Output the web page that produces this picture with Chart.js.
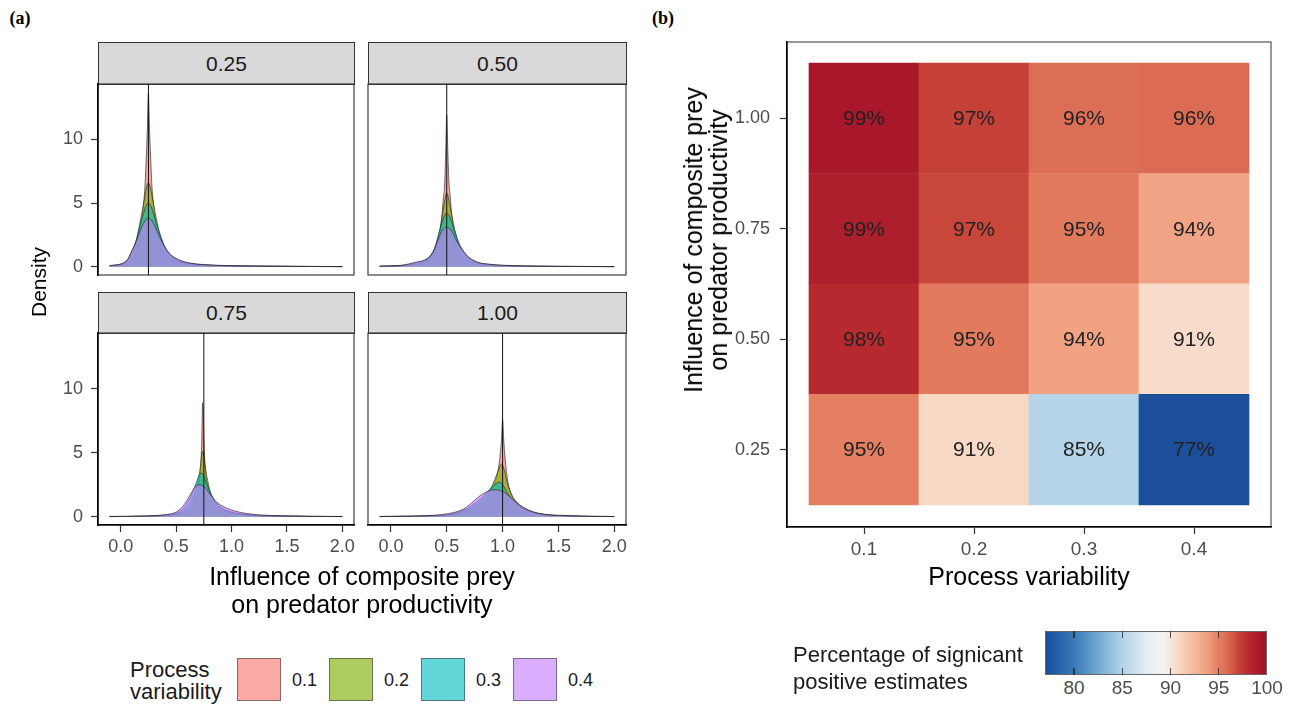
<!DOCTYPE html>
<html><head><meta charset="utf-8">
<script src="https://cdn.jsdelivr.net/npm/chart.js@4/dist/chart.umd.min.js"></script>
<style>
html,body{margin:0;padding:0;background:#fff;width:1293px;height:705px;overflow:hidden;font-family:"Liberation Sans",Arial,sans-serif;}
canvas{position:absolute;}
.t{position:absolute;white-space:nowrap;}
.strip{position:absolute;background:#D9D9D9;border:1.5px solid #333;box-sizing:border-box;display:flex;align-items:center;justify-content:center;font-size:21px;color:#1a1a1a;}
</style></head><body>
<script>
// ---------------- DATA ----------------
const facetValues = [0.25, 0.50, 0.75, 1.00];
const facetLabels = ['0.25', '0.50', '0.75', '1.00'];
const processLabels = ['0.1', '0.2', '0.3', '0.4'];
const densityXTicks = [0, 0.5, 1, 1.5, 2];
const densityYTicks = [0, 5, 10];

// facet 0.25 : density curves for process variability 0.1 / 0.2 / 0.3 / 0.4
const x_f025 = [-0.1,0.05,0.1,0.14,0.17,0.19,0.205,0.22,0.23,0.24,0.25,0.26,0.27,0.28,0.295,0.31,0.33,0.36,0.4,0.45,0.53,0.63,0.75,0.95,1.25,1.6,2.0];
const f025_p01 = [0.05,0.25,0.75,1.4,2.5,3.6,4.8,6.5,8.5,10.8,13.6,10.8,8.6,6.6,4.9,3.7,2.6,1.65,1.0,0.6,0.32,0.18,0.1,0.06,0.03,0.02,0.01];
const f025_p02 = [0.06,0.35,1.1,2.0,3.3,4.2,4.9,5.65,6.1,6.45,6.6,6.45,6.1,5.7,5.0,4.3,3.4,2.35,1.45,0.85,0.42,0.22,0.13,0.07,0.04,0.02,0.01];
const f025_p03 = [0.07,0.4,1.2,2.1,3.1,3.75,4.15,4.6,4.8,4.95,5.0,4.95,4.8,4.6,4.2,3.8,3.2,2.4,1.55,0.95,0.5,0.26,0.15,0.08,0.045,0.025,0.01];
const f025_p04 = [0.08,0.45,1.25,2.0,2.7,3.12,3.4,3.6,3.72,3.78,3.8,3.78,3.72,3.62,3.42,3.15,2.75,2.15,1.5,0.95,0.52,0.28,0.17,0.09,0.05,0.03,0.015];
// facet 0.50
const x_f050 = [-0.1,0.1,0.22,0.3,0.35,0.39,0.42,0.44,0.455,0.47,0.48,0.49,0.5,0.51,0.52,0.53,0.545,0.56,0.58,0.61,0.65,0.7,0.78,0.88,1.0,1.2,1.5,2.0];
const f050_p01 = [0.02,0.06,0.15,0.3,0.55,0.95,1.6,2.4,3.8,5.4,6.3,8.8,11.9,9.0,6.6,5.6,4.0,2.9,1.8,1.1,0.65,0.38,0.18,0.1,0.06,0.03,0.02,0.01];
const f050_p02 = [0.03,0.08,0.22,0.42,0.75,1.3,2.2,3.0,3.8,4.6,5.1,5.55,5.8,5.6,5.2,4.75,4.05,3.4,2.6,1.75,1.1,0.6,0.28,0.15,0.08,0.04,0.02,0.01];
const f050_p03 = [0.04,0.1,0.28,0.5,0.85,1.45,2.3,2.95,3.4,3.8,4.0,4.15,4.2,4.15,4.02,3.85,3.5,3.1,2.55,1.85,1.2,0.7,0.33,0.18,0.1,0.05,0.03,0.01];
const f050_p04 = [0.05,0.12,0.35,0.52,0.8,1.35,2.05,2.5,2.78,2.95,3.03,3.08,3.1,3.08,3.03,2.96,2.8,2.55,2.2,1.7,1.2,0.72,0.35,0.2,0.12,0.06,0.03,0.015];
// facet 0.75
const x_f075 = [-0.1,0.2,0.4,0.5,0.56,0.62,0.66,0.69,0.71,0.72,0.73,0.74,0.75,0.76,0.77,0.785,0.8,0.83,0.87,0.92,1.0,1.1,1.25,1.45,1.7,2.0];
const f075_p01 = [0.01,0.02,0.06,0.15,0.3,0.65,1.1,1.8,2.7,3.5,5.5,8.9,6.2,4.2,3.1,2.3,1.7,1.1,0.7,0.45,0.25,0.14,0.07,0.04,0.02,0.01];
const f075_p02 = [0.01,0.03,0.09,0.2,0.42,0.95,1.6,2.5,3.4,4.0,4.8,5.1,4.7,4.1,3.5,2.8,2.2,1.45,0.9,0.58,0.32,0.17,0.08,0.04,0.02,0.01];
const f075_p03 = [0.01,0.04,0.12,0.28,0.6,1.35,2.15,2.85,3.25,3.38,3.4,3.32,3.15,2.95,2.72,2.4,2.05,1.5,1.0,0.65,0.37,0.2,0.1,0.05,0.02,0.01];
const f075_p04 = [0.02,0.05,0.16,0.36,0.8,1.6,2.2,2.45,2.5,2.48,2.45,2.4,2.35,2.28,2.2,2.02,1.85,1.5,1.1,0.82,0.52,0.3,0.14,0.07,0.03,0.02];
// facet 1.00
const x_f100 = [-0.1,0.2,0.4,0.55,0.65,0.72,0.8,0.86,0.9,0.93,0.95,0.97,0.98,0.99,1.0,1.01,1.02,1.035,1.05,1.08,1.12,1.18,1.26,1.36,1.46,1.53,1.6,1.8,2.0];
const f100_p01 = [0.01,0.02,0.05,0.13,0.3,0.55,1.0,1.5,2.0,2.6,3.2,4.2,5.0,6.0,7.6,6.0,4.8,3.5,2.6,1.7,1.1,0.65,0.35,0.17,0.09,0.08,0.05,0.02,0.01];
const f100_p02 = [0.01,0.03,0.07,0.17,0.4,0.7,1.2,1.75,2.3,2.9,3.35,3.8,4.0,4.1,4.05,3.8,3.45,2.9,2.4,1.75,1.2,0.75,0.4,0.2,0.1,0.08,0.05,0.02,0.01];
const f100_p03 = [0.01,0.04,0.09,0.22,0.5,0.85,1.4,1.9,2.25,2.5,2.63,2.7,2.68,2.62,2.52,2.38,2.22,1.98,1.75,1.4,1.02,0.65,0.36,0.18,0.1,0.08,0.05,0.02,0.01];
const f100_p04 = [0.02,0.05,0.12,0.3,0.6,1.05,1.65,1.95,2.08,2.1,2.1,2.06,2.03,2.0,1.96,1.92,1.87,1.78,1.68,1.45,1.15,0.75,0.42,0.2,0.12,0.11,0.07,0.03,0.02];

// heatmap (b)
const hmProcess = [0.1, 0.2, 0.3, 0.4];
const hmInfluence = [0.25, 0.50, 0.75, 1.00];
const hmPct_025 = [95.0, 90.8, 85.1, 77.0];
const hmPct_050 = [98.2, 95.2, 93.7, 90.6];
const hmPct_075 = [98.9, 97.0, 95.3, 93.6];
const hmPct_100 = [99.4, 97.2, 95.8, 95.9];
const colorLimits = [77, 100];
const colorbarTicks = [80, 85, 90, 95, 100];

// ---------------- STYLE ----------------
const FONT = '"Liberation Sans", Arial, sans-serif';
const fillColors = ['rgba(248,118,109,0.62)','rgba(124,174,0,0.62)','rgba(0,191,196,0.62)','rgba(199,124,255,0.62)'];
const colorStops = [[77,'#1B4E9B'],[80,'#3A7BB8'],[83,'#7EB3D6'],[85,'#B3D3E6'],[87.5,'#E3EDF3'],[89.3,'#F5F3F0'],[91,'#F8D5C0'],[93,'#F3B193'],[94,'#EF9B7B'],[95,'#E47F61'],[96,'#DA6A52'],[97,'#C8463A'],[98,'#B82D30'],[99,'#AC1D2C'],[100,'#A50F26']];

function hex2rgb(h){return [parseInt(h.substr(1,2),16),parseInt(h.substr(3,2),16),parseInt(h.substr(5,2),16)];}
function colorFor(v){
  if (v <= colorStops[0][0]) return colorStops[0][1];
  for (let i=1;i<colorStops.length;i++){
    if (v <= colorStops[i][0]){
      const [v0,c0]=colorStops[i-1],[v1,c1]=colorStops[i];
      const f=(v-v0)/(v1-v0), a=hex2rgb(c0), b=hex2rgb(c1);
      return 'rgb('+a.map((x,k)=>Math.round(x+(b[k]-x)*f)).join(',')+')';
    }
  }
  return colorStops[colorStops.length-1][1];
}

function makeCanvas(left, top, w, h){
  const c=document.createElement('canvas');
  c.width=w; c.height=h;
  c.style.left=left+'px'; c.style.top=top+'px'; c.style.width=w+'px'; c.style.height=h+'px';
  document.body.appendChild(c);
  return c;
}
function addText(txt, x, y, css, rotate){
  const d=document.createElement('div');
  d.className='t';
  d.innerHTML=txt;
  d.style.left=x+'px'; d.style.top=y+'px';
  d.style.transform='translate(-50%,-50%)'+(rotate?' rotate(-90deg)':'');
  Object.assign(d.style, css||{});
  document.body.appendChild(d);
  return d;
}
function zeroPad(s){ s.paddingLeft=0; s.paddingRight=0; s.paddingTop=0; s.paddingBottom=0; }

// ---------------- DENSITY PANELS ----------------
const Y_AXIS_W = 68, X_AXIS_H = 45, PAD = 3;
function densityPanel(rect, showY, showX, xs, seriesList, facet){
  const leftSpace = showY ? Y_AXIS_W : PAD;
  const bottomSpace = showX ? X_AXIS_H : PAD;
  const left = rect.l - leftSpace, top = rect.t - PAD;
  const w = rect.r - left + PAD, h = rect.b - top + bottomSpace;
  const cv = makeCanvas(left, top, w, h);
  const framePlugin = {
    id:'frame'+facet,
    afterDatasetsDraw(chart){
      const ctx=chart.ctx, a=chart.chartArea, xs_=chart.scales.x;
      ctx.save();
      ctx.strokeStyle='#3d3d3d'; ctx.lineWidth=1.2;
      ctx.strokeRect(a.left, a.top, a.right-a.left, a.bottom-a.top);
      const px = xs_.getPixelForValue(facet);
      ctx.strokeStyle='#111'; ctx.lineWidth=1;
      ctx.beginPath(); ctx.moveTo(px, a.top); ctx.lineTo(px, a.bottom); ctx.stroke();
      ctx.restore();
    }
  };
  new Chart(cv, {
    type:'line',
    data:{datasets: seriesList.map((ys,k)=>({
      data: xs.map((x,i)=>({x:x, y:ys[i]})),
      backgroundColor: fillColors[k], borderColor:'rgba(35,35,35,0.8)', borderWidth:0.8,
      fill:'origin', pointRadius:0, cubicInterpolationMode:'monotone', order: 4-k
    }))},
    options:{
      responsive:false, maintainAspectRatio:false, animation:false, devicePixelRatio:1, events:[],
      layout:{padding:{left: showY?0:PAD, right:PAD, top:PAD, bottom: showX?0:PAD}},
      plugins:{legend:{display:false}, tooltip:{enabled:false}},
      scales:{
        x:{type:'linear', min:-0.205, max:2.105, display:showX,
          afterBuildTicks:s=>{s.ticks=densityXTicks.map(v=>({value:v}));},
          afterFit:s=>{s.height=showX?X_AXIS_H:0; zeroPad(s);},
          grid:{display:true, drawOnChartArea:false, tickLength:7, tickColor:'#333', tickWidth:1.2},
          border:{display:true, color:'#000', width:1.6, z:1},
          ticks:{font:{family:FONT, size:18}, color:'#4D4D4D', padding:4, maxRotation:0, callback:v=>Number(v).toFixed(1)}
        },
        y:{type:'linear', min:-0.65, max:14.35, display:showY,
          afterBuildTicks:s=>{s.ticks=densityYTicks.map(v=>({value:v}));},
          afterFit:s=>{s.width=showY?Y_AXIS_W:0; zeroPad(s);},
          grid:{display:true, drawOnChartArea:false, tickLength:7, tickColor:'#333', tickWidth:1.2},
          border:{display:true, color:'#000', width:1.6, z:1},
          ticks:{font:{family:FONT, size:18}, color:'#4D4D4D', padding:8, callback:v=>String(v)}
        }
      }
    },
    plugins:[framePlugin]
  });
}

const panelRects = [
  {l:98, t:84, r:354, b:275, sT:42},
  {l:368, t:84, r:626, b:275, sT:42},
  {l:98, t:333, r:354, b:525, sT:292},
  {l:368, t:333, r:626, b:525, sT:292}
];
const panelX = [x_f025, x_f050, x_f075, x_f100];
const panelSeries = [
  [f025_p01,f025_p02,f025_p03,f025_p04],
  [f050_p01,f050_p02,f050_p03,f050_p04],
  [f075_p01,f075_p02,f075_p03,f075_p04],
  [f100_p01,f100_p02,f100_p03,f100_p04]
];
panelRects.forEach((r,i)=>{
  const s=document.createElement('div');
  s.className='strip';
  s.style.left=r.l+'px'; s.style.top=r.sT+'px';
  s.style.width=(r.r-r.l+1)+'px'; s.style.height=(r.t-r.sT+1)+'px';
  s.textContent=facetLabels[i];
  document.body.appendChild(s);
  densityPanel(r, i%2===0, i>=2, panelX[i], panelSeries[i], facetValues[i]);
});

// axis titles (a)
addText('Density', 39, 282, {fontSize:'21px', color:'#000'}, true);
addText('Influence of composite prey<br>on predator productivity', 362, 590, {fontSize:'25px', color:'#000', textAlign:'center', lineHeight:'28px'});

// legend (a)
addText('Process<br>variability', 130, 681, {fontSize:'22px', color:'#1a1a1a', lineHeight:'22px', transform:'translate(0,-50%)'});
const legBoxX = [237, 329, 421, 513];
processLabels.forEach((lab,k)=>{
  const b=document.createElement('div');
  Object.assign(b.style,{position:'absolute', left:legBoxX[k]+'px', top:'658px', width:'44px', height:'43px', boxSizing:'border-box', background:fillColors[k], border:'1px solid rgba(60,60,60,0.6)'});
  document.body.appendChild(b);
  addText(lab, legBoxX[k]+55, 680, {fontSize:'18px', color:'#1a1a1a', transform:'translate(0,-50%)'});
});

// ---------------- HEATMAP ----------------
(function(){
  const plot={l:787, t:42, r:1271, b:527};
  const YW=70, XH=45;
  const left=plot.l-YW, top=plot.t-PAD;
  const w=plot.r-left+PAD, h=plot.b-top+XH;
  const cv=makeCanvas(left, top, w, h);
  const rows=[hmPct_025, hmPct_050, hmPct_075, hmPct_100];
  const half=(hmInfluence[1]-hmInfluence[0])/2;
  const hmPlugin={
    id:'hmDecor',
    afterDatasetsDraw(chart){
      const ctx=chart.ctx, a=chart.chartArea, xs=chart.scales.x, ys=chart.scales.y;
      ctx.save();
      ctx.strokeStyle='#555'; ctx.lineWidth=1.2;
      ctx.strokeRect(a.left, a.top, a.right-a.left, a.bottom-a.top);
      ctx.fillStyle='#222';
      ctx.font='21px '+FONT;
      ctx.textAlign='center'; ctx.textBaseline='middle';
      hmInfluence.forEach((inf,r)=>{
        hmProcess.forEach((p,c)=>{
          ctx.fillText(Math.round(rows[r][c])+'%', xs.getPixelForValue(p), ys.getPixelForValue(inf)+1);
        });
      });
      ctx.restore();
    }
  };
  new Chart(cv,{
    type:'bar',
    data:{datasets: hmInfluence.map((inf,r)=>({
      data: hmProcess.map(p=>({x:p, y:[inf-half, inf+half]})),
      backgroundColor: rows[r].map(v=>colorFor(v)),
      borderWidth:0, grouped:false, barPercentage:1, categoryPercentage:1
    }))},
    options:{
      responsive:false, maintainAspectRatio:false, animation:false, devicePixelRatio:1, events:[],
      layout:{padding:{left:0, right:PAD, top:PAD, bottom:0}},
      plugins:{legend:{display:false}, tooltip:{enabled:false}},
      scales:{
        x:{type:'linear', min:0.03, max:0.47, offset:false,
          afterBuildTicks:s=>{s.ticks=hmProcess.map(v=>({value:v}));},
          afterFit:s=>{s.height=XH; zeroPad(s);},
          grid:{display:true, offset:false, drawOnChartArea:false, tickLength:7, tickColor:'#333', tickWidth:1.2},
          border:{display:true, color:'#000', width:1.6, z:1},
          ticks:{font:{family:FONT, size:19}, color:'#4D4D4D', padding:4, maxRotation:0, callback:v=>Number(v).toFixed(1)}
        },
        y:{type:'linear', min:0.075, max:1.1725,
          afterBuildTicks:s=>{s.ticks=hmInfluence.map(v=>({value:v}));},
          afterFit:s=>{s.width=YW; zeroPad(s);},
          grid:{display:true, drawOnChartArea:false, tickLength:7, tickColor:'#333', tickWidth:1.2},
          border:{display:true, color:'#000', width:1.6, z:1},
          ticks:{font:{family:FONT, size:18}, color:'#4D4D4D', padding:10, callback:v=>Number(v).toFixed(2)}
        }
      }
    },
    plugins:[hmPlugin]
  });
})();

addText('Process variability', 1029, 576, {fontSize:'25px', color:'#000'});
addText('Influence of composite prey<br>on predator productivity', 706, 240, {fontSize:'25px', color:'#000', textAlign:'center', lineHeight:'25px'}, true);

// colorbar legend (b)
(function(){
  const bar={l:1045, t:631, w:222, h:44};
  const span=colorLimits[1]-colorLimits[0];
  const grad='linear-gradient(to right,'+colorStops.map(s=>s[1]+' '+((s[0]-colorLimits[0])/span*100).toFixed(2)+'%').join(',')+')';
  const d=document.createElement('div');
  Object.assign(d.style,{position:'absolute', left:bar.l+'px', top:bar.t+'px', width:bar.w+'px', height:bar.h+'px', background:grad, boxSizing:'border-box', border:'1px solid #666'});
  document.body.appendChild(d);
  colorbarTicks.forEach(v=>{
    const x=bar.l+(v-colorLimits[0])/span*bar.w;
    if (v<colorLimits[1]) {
      [bar.t, bar.t+bar.h-7].forEach(ty=>{
        const tk=document.createElement('div');
        Object.assign(tk.style,{position:'absolute', left:(x-0.6)+'px', top:ty+'px', width:'1.2px', height:'7px', background:'rgba(40,40,40,0.8)'});
        document.body.appendChild(tk);
      });
    }
    addText(String(v), x, 688, {fontSize:'19px', color:'#4D4D4D'});
  });
  addText('Percentage of signicant<br>positive estimates', 793, 668, {fontSize:'22px', color:'#1a1a1a', lineHeight:'27px', transform:'translate(0,-50%)'});
})();

// panel tags
addText('(a)', 20, 18, {fontFamily:'"Liberation Serif", "Times New Roman", serif', fontWeight:'bold', fontSize:'18px', color:'#000'});
addText('(b)', 663, 18, {fontFamily:'"Liberation Serif", "Times New Roman", serif', fontWeight:'bold', fontSize:'18px', color:'#000'});
</script>
</body></html>
